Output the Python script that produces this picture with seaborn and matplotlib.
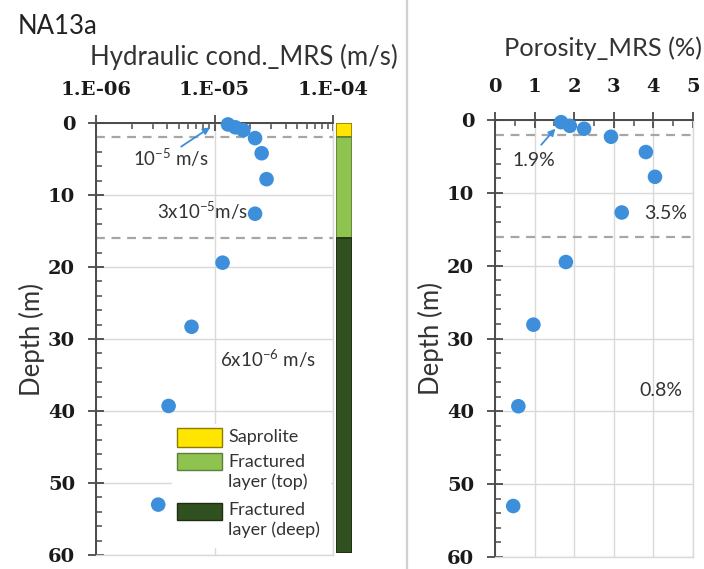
import matplotlib
matplotlib.use("Agg")
import matplotlib.pyplot as plt
import matplotlib.ticker as mticker
from matplotlib.patches import Rectangle
from matplotlib.lines import Line2D
import numpy as np
import pandas as pd
import seaborn as sns

# Borehole NA13a: MRS-derived hydraulic conductivity and porosity vs depth
depth_k = [0.2, 0.6, 1.0, 2.1, 4.2, 7.8, 12.6, 19.4, 28.3, 39.3, 53.0]
hydraulic_k = [1.3e-5, 1.5e-5, 1.75e-5, 2.2e-5, 2.5e-5, 2.75e-5, 2.2e-5, 1.17e-5, 6.4e-6, 4.1e-6, 3.35e-6]
depth_phi = [0.3, 0.8, 1.2, 2.3, 4.4, 7.8, 12.7, 19.5, 28.1, 39.3, 53.0]
porosity = [1.67, 1.89, 2.25, 2.93, 3.81, 4.04, 3.2, 1.79, 0.97, 0.59, 0.46]

layer_names = ["Saprolite", "Fractured\nlayer (top)", "Fractured\nlayer (deep)"]
layer_top = [0, 2, 16]
layer_bottom = [2, 16, 60]
layer_colors = ["#FFE500", "#8DC34E", "#31501F"]
layer_edges = ["#8C7D00", "#5E7F3A", "#1E2E14"]
boundaries = [2, 16]

k_ticks = [1e-6, 1e-5, 1e-4]
k_ticklabels = ["1.E-06", "1.E-05", "1.E-04"]
phi_ticks = [0, 1, 2, 3, 4, 5]
depth_ticks = [0, 10, 20, 30, 40, 50, 60]

sns.set_theme(style="white")
plt.rcParams["font.family"] = ["Lato", "DejaVu Sans"]
plt.rcParams["mathtext.fontset"] = "custom"
plt.rcParams["mathtext.rm"] = "Lato"
plt.rcParams["mathtext.it"] = "Lato"

W, H = 704, 569
fig = plt.figure(figsize=(W / 100, H / 100), dpi=100)
fig.patch.set_facecolor("white")


def frac_box(x0, y0, x1, y1):
    return [x0 / W, 1 - y1 / H, (x1 - x0) / W, (y1 - y0) / H]


ax_k = fig.add_axes(frac_box(96, 123, 333, 555))
ax_col = fig.add_axes(frac_box(336, 123, 352, 553))
ax_p = fig.add_axes(frac_box(495, 120, 693, 557))

df_k = pd.DataFrame({"K": hydraulic_k, "depth": depth_k})
df_p = pd.DataFrame({"phi": porosity, "depth": depth_phi})

blue = "#3D8FDB"
text_c = "#333333"
tick_font = dict(family="DejaVu Serif", weight="bold", size=14)
spine_dark = "#4A4A4A"
grid_c = "#D9D9D9"


def style_axes(ax):
    ax.set_ylim(60, 0)
    ax.set_yticks(depth_ticks)
    ax.yaxis.set_minor_locator(mticker.MultipleLocator(2))
    ax.xaxis.set_ticks_position("top")
    ax.xaxis.set_label_position("top")
    ax.grid(True, which="major", color=grid_c, lw=1)
    ax.set_axisbelow(True)
    for s in ("top", "left"):
        ax.spines[s].set_color(spine_dark)
        ax.spines[s].set_linewidth(1.4)
    for s in ("right", "bottom"):
        ax.spines[s].set_color(grid_c)
        ax.spines[s].set_linewidth(1)
    ax.tick_params(axis="both", which="major", direction="inout", length=12,
                   width=1.3, color=spine_dark)
    ax.tick_params(axis="x", which="major", pad=11)
    ax.tick_params(axis="y", which="major", pad=9)
    ax.tick_params(axis="both", which="minor", direction="in", length=4,
                   width=1.1, color=spine_dark)
    ax.tick_params(axis="x", which="both", top=True, bottom=False)
    ax.tick_params(axis="y", which="both", left=True, right=False)
    for lab in ax.get_xticklabels() + ax.get_yticklabels():
        lab.set_fontproperties(tick_font)
        lab.set_color("#1A1A1A")
    ax.set_ylabel("Depth (m)", fontsize=18.5, color=text_c, labelpad=2)
    ax.set_xlabel("")
    for b in boundaries:
        ax.axhline(b, color="#A6A6A6", lw=1.6, ls=(0, (4, 3)), zorder=1)


# Hydraulic conductivity panel
sns.scatterplot(data=df_k, x="K", y="depth", ax=ax_k, color=blue, s=110,
                edgecolor="none", zorder=3, clip_on=False)
ax_k.set_xscale("log")
ax_k.set_xlim(1e-6, 1e-4)
ax_k.set_xticks(k_ticks)
ax_k.set_xticklabels(k_ticklabels)
ax_k.xaxis.set_minor_locator(mticker.LogLocator(base=10, subs=np.arange(2, 10)))
ax_k.xaxis.set_minor_formatter(mticker.NullFormatter())
style_axes(ax_k)

ax_k.annotate("", xy=(9.6e-6, 0.4), xytext=(5.0e-6, 3.5),
              arrowprops=dict(arrowstyle="-|>", color=blue, lw=1.3,
                              mutation_scale=10), zorder=4)
ax_k.text(4.3e-6, 4.8, r"10$^{-5}$ m/s", fontsize=13.5, color=text_c,
          ha="center", va="center")
ax_k.text(7.9e-6, 12.2, r"3x10$^{-5}$m/s", fontsize=13.5, color=text_c,
          ha="center", va="center")
ax_k.text(2.8e-5, 32.7, r"6x10$^{-6}$ m/s", fontsize=13.5, color=text_c,
          ha="center", va="center")


# Legend for lithology column, drawn in axes fraction of the K panel
def fx(px):
    return (px - 96) / 237


def fy(py):
    return (555 - py) / 432


ax_k.add_patch(Rectangle((fx(172), fy(548)), fx(331) - fx(172), fy(424) - fy(548),
                         transform=ax_k.transAxes, facecolor="white",
                         edgecolor="none", zorder=5))
box_rows = [(428, 447), (453, 470), (503, 520)]
text_rows = [437, 472, 520]
for name, col, ec, (t, b), ty in zip(layer_names, layer_colors, layer_edges,
                                     box_rows, text_rows):
    ax_k.add_patch(Rectangle((fx(177), fy(b)), fx(222) - fx(177), fy(t) - fy(b),
                             transform=ax_k.transAxes, facecolor=col,
                             edgecolor=ec, lw=1, zorder=6))
    ax_k.text(fx(228), fy(ty), name, transform=ax_k.transAxes, fontsize=13,
              color=text_c, ha="left", va="center", linespacing=1.3,
              zorder=7)

# Lithology column
ax_col.bar(x=[0] * len(layer_top),
           height=np.array(layer_bottom) - np.array(layer_top),
           bottom=layer_top, width=1, align="edge", color=layer_colors,
           edgecolor=layer_edges, linewidth=1.2)
ax_col.set_xlim(0, 1)
ax_col.set_ylim(60, 0)
ax_col.axis("off")

# Porosity panel
sns.scatterplot(data=df_p, x="phi", y="depth", ax=ax_p, color=blue, s=110,
                edgecolor="none", zorder=3, clip_on=False)
ax_p.set_xlim(0, 5)
ax_p.set_xticks(phi_ticks)
ax_p.xaxis.set_minor_locator(mticker.MultipleLocator(0.5))
style_axes(ax_p)

ax_p.annotate("", xy=(1.57, 0.9), xytext=(1.12, 3.7),
              arrowprops=dict(arrowstyle="-|>", color=blue, lw=1.3,
                              mutation_scale=10), zorder=4)
ax_p.text(0.98, 5.6, "1.9%", fontsize=14, color=text_c, ha="center", va="center")
ax_p.text(4.32, 12.9, "3.5%", fontsize=14, color=text_c, ha="center", va="center")
ax_p.text(4.19, 37.1, "0.8%", fontsize=14, color=text_c, ha="center", va="center")

# Titles and panel separator
fig.text(18 / W, 1 - 27 / H, "NA13a", fontsize=18.5, color="#222222",
         ha="left", va="center")
fig.text(244 / W, 1 - 57 / H, "Hydraulic cond._MRS (m/s)", fontsize=18.5,
         color=text_c, ha="center", va="center")
fig.text(603 / W, 1 - 48 / H, "Porosity_MRS (%)", fontsize=18.3,
         color=text_c, ha="center", va="center")
fig.add_artist(Line2D([407 / W, 407 / W], [0, 1], transform=fig.transFigure,
                      color="#D0D0D0", lw=1.6))

fig.savefig("out.png", dpi=100, facecolor="white")
